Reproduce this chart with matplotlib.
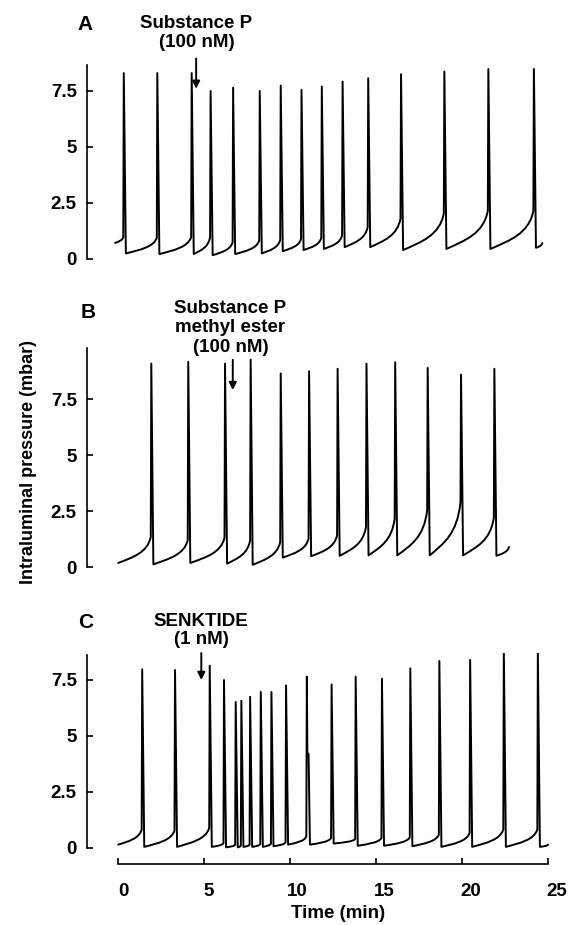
import matplotlib
matplotlib.use("Agg")
import matplotlib.pyplot as plt
from matplotlib.path import Path
from matplotlib.patches import PathPatch
from matplotlib.transforms import ScaledTranslation

plt.rcParams['font.family'] = ['Liberation Sans', 'DejaVu Sans']
plt.rcParams['font.weight'] = 'bold'

# ---------------- data (time in min, pressure in mbar) ----------------
# Panel A: Substance P (100 nM)
a_start = (-0.19, 0.72)
a_end = (24.67, 0.71)
a_spike_t = [0.29, 2.24, 4.24, 5.34, 6.65, 8.20, 9.42, 10.63, 11.81, 13.02, 14.51, 16.42, 18.94, 21.50, 24.15]
a_peak = [8.30, 8.30, 8.30, 7.50, 7.65, 7.50, 7.74, 7.55, 7.70, 7.92, 8.07, 8.25, 8.37, 8.48, 8.48]
a_pre = [0.98, 0.95, 0.98, 0.98, 0.75, 0.83, 0.86, 0.90, 0.95, 1.06, 1.43, 1.81, 2.04, 2.16, 2.16]
a_trough = [0.25, 0.22, 0.22, 0.17, 0.22, 0.25, 0.35, 0.40, 0.45, 0.53, 0.53, 0.40, 0.45, 0.45, 0.50]
a_drug_t = 4.53

# Panel B: Substance P methyl ester (100 nM)
b_start = (0.0, 0.18)
b_end = (22.73, 0.90)
b_spike_t = [1.89, 4.04, 6.18, 7.67, 9.42, 11.07, 12.73, 14.41, 16.08, 17.97, 19.91, 21.85]
b_peak = [9.08, 9.16, 9.08, 9.26, 8.64, 8.74, 8.85, 9.08, 9.14, 8.89, 8.59, 8.85]
b_pre = [1.34, 1.20, 1.31, 1.20, 1.12, 1.27, 1.42, 1.79, 2.17, 2.54, 2.91, 2.21]
b_trough = [0.12, 0.18, 0.15, 0.10, 0.42, 0.48, 0.50, 0.52, 0.52, 0.52, 0.52, 0.50]
b_drug_t = 6.66

# Panel C: SENKTIDE (1 nM)
c_start = (0.0, 0.15)
c_end = (25.0, 0.15)
c_spike_t = [1.36, 3.27, 5.29, 6.12, 6.80, 7.13, 7.64, 8.26, 8.88, 9.73, 10.94, 12.38, 13.78,
             15.31, 16.96, 18.65, 20.44, 22.40, 24.38]
c_peak = [7.98, 7.95, 8.14, 7.50, 6.52, 6.57, 6.75, 6.97, 6.97, 7.26, 7.65, 7.30, 7.65,
          7.56, 8.02, 8.35, 8.40, 8.90, 8.70]
c_pre = [0.83, 0.78, 0.90, 0.22, 0.15, 0.12, 0.15, 0.18, 0.20, 0.25, 0.52, 0.45, 0.40,
         0.45, 0.48, 0.60, 0.67, 0.83, 0.83]
c_trough = [0.05, 0.05, 0.05, 0.03, 0.03, 0.05, 0.05, 0.05, 0.08, 0.15, 0.15, 0.20, 0.10,
            0.10, 0.08, 0.05, 0.05, 0.05, 0.05]
c_shoulder = {10: ([11.00, 11.07], [4.25, 4.20])}
c_drug_t = 4.83

y_ticks = [0, 2.5, 5, 7.5]
y_ticklabels = ['0', '2.5', '5', '7.5']
x_ticks = [0, 5, 10, 15, 20, 25]
x_ticklabels = ['0', '5', '10', '15', '20', '25']

# ---------------- layout helpers ----------------
W, H = 574, 925
fig = plt.figure(figsize=(W / 100, H / 100), dpi=100)
PX_PER_UNIT = 22.4
XLIM = (-1.85, 25.6)
X0_PX = 86.5
X1_PX = 558.3
FS = 13.5


def make_axes(zero_px, ylim):
    top_px = zero_px - ylim[1] * PX_PER_UNIT
    bot_px = zero_px - ylim[0] * PX_PER_UNIT
    ax = fig.add_axes([X0_PX / W, 1 - bot_px / H, (X1_PX - X0_PX) / W, (bot_px - top_px) / H])
    ax.set_xlim(*XLIM)
    ax.set_ylim(*ylim)
    ax.patch.set_alpha(0)
    return ax


def trace_path(start, end, spike_t, peak, pre, trough, shoulder=None):
    shoulder = shoulder or {}
    verts = [start]
    codes = [Path.MOVETO]
    prev = start

    def ramp(p0, p1):
        t0, v0 = p0
        t1, v1 = p1
        dt, dv = t1 - t0, v1 - v0
        c1 = (t0 + 0.45 * dt, v0 + 0.22 * dv)
        c2 = (t0 + 0.90 * dt, v0 + 0.40 * dv)
        verts.extend([c1, c2, p1])
        codes.extend([Path.CURVE4, Path.CURVE4, Path.CURVE4])

    for i, t in enumerate(spike_t):
        ramp(prev, (t, pre[i]))
        verts.append((t + 0.03, peak[i]))
        codes.append(Path.LINETO)
        if i in shoulder:
            for st, sv in zip(*shoulder[i]):
                verts.append((st, sv))
                codes.append(Path.LINETO)
            tr = (shoulder[i][0][-1] + 0.08, trough[i])
        else:
            tr = (t + 0.15, trough[i])
        verts.append(tr)
        codes.append(Path.LINETO)
        prev = tr
    ramp(prev, end)
    return Path(verts, codes)


def style_axes(ax, ytop, show_x=False):
    for s in ['top', 'right']:
        ax.spines[s].set_visible(False)
    ax.spines['left'].set_bounds(0, ytop)
    ax.spines['left'].set_linewidth(1.2)
    ax.set_yticks(y_ticks)
    ax.set_yticklabels(y_ticklabels)
    ax.tick_params(axis='y', direction='in', length=4.5, width=1.2, pad=7,
                   labelsize=FS)
    if show_x:
        ax.spines['bottom'].set_bounds(0, 25)
        ax.spines['bottom'].set_linewidth(1.2)
        ax.set_xticks(x_ticks)
        ax.set_xticklabels(x_ticklabels)
        ax.tick_params(axis='x', direction='in', length=4, width=1.2, pad=14,
                       labelsize=FS)
        offsets_px = [5, 4, 7, 8, 9, 9]
        for lab, dx in zip(ax.get_xticklabels(), offsets_px):
            lab.set_transform(lab.get_transform() +
                              ScaledTranslation(dx / 100, 0, fig.dpi_scale_trans))
    else:
        ax.spines['bottom'].set_visible(False)
        ax.set_xticks([])
    for lab in ax.get_xticklabels() + ax.get_yticklabels():
        lab.set_fontweight('bold')


def draw(ax, path):
    ax.add_patch(PathPatch(path, fill=False, lw=1.4, edgecolor='black',
                           joinstyle='round', capstyle='round'))


def arrow(ax, t, y_top, y_tip):
    ax.annotate('', xy=(t, y_tip), xytext=(t, y_top), annotation_clip=False,
                arrowprops=dict(arrowstyle='-|>', lw=1.4, color='black',
                                mutation_scale=11, shrinkA=0, shrinkB=0))


def ftext(x_px, y_px, s, size=FS, **kw):
    fig.text(x_px / W, 1 - y_px / H, s, fontsize=size, fontweight='bold',
             ha='center', va='center', **kw)


# ---------------- Panel A ----------------
axA = make_axes(259, (-0.5, 8.7))
style_axes(axA, 8.65)
draw(axA, trace_path(a_start, a_end, a_spike_t, a_peak, a_pre, a_trough))
arrow(axA, a_drug_t, 8.95, 7.6)
ftext(196.5, 23.5, 'Substance P')
ftext(196.5, 42.5, '(100 nM)')
ftext(85, 25, 'A', size=15)

# ---------------- Panel B ----------------
axB = make_axes(567, (-0.5, 9.8))
style_axes(axB, 9.78)
draw(axB, trace_path(b_start, b_end, b_spike_t, b_peak, b_pre, b_trough))
arrow(axB, b_drug_t, 9.25, 7.9)
ftext(230.5, 309, 'Substance P')
ftext(230.5, 328, 'methyl ester')
ftext(230.5, 348, '(100 nM)')
ftext(88, 312, 'B', size=15)

# ---------------- Panel C ----------------
axC = make_axes(848, (-0.7, 8.7))
style_axes(axC, 8.62, show_x=True)
draw(axC, trace_path(c_start, c_end, c_spike_t, c_peak, c_pre, c_trough, c_shoulder))
arrow(axC, c_drug_t, 8.7, 7.5)
ftext(201, 621, 'SENKTIDE')
ftext(201, 639.5, '(1 nM)')
ftext(86, 623, 'C', size=15)

# ---------------- shared labels ----------------
ftext(29, 462, 'Intraluminal pressure (mbar)', size=13, rotation=90)
ftext(338, 914, 'Time (min)')

fig.savefig('out.png', dpi=100)
